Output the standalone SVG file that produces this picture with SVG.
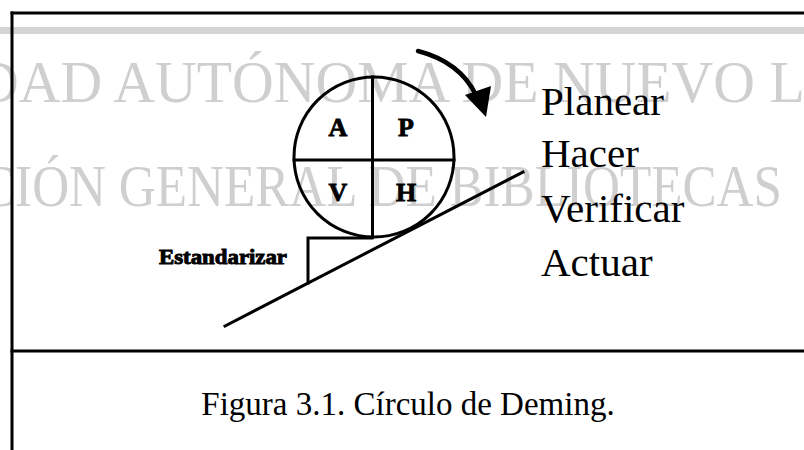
<svg xmlns="http://www.w3.org/2000/svg" width="804" height="450" viewBox="0 0 804 450">
  <style>
    .serif { font-family: "Liberation Serif", "Times New Roman", serif; }
    .wm { font-family: "Liberation Serif", "Times New Roman", serif; font-size: 60px; fill: #cfcfcf; }
    .ln { stroke: #000; fill: none; stroke-linecap: square; }
    .lbl { font-family: "Liberation Serif", "Times New Roman", serif; font-size: 41px; fill: #000; }
    .q { font-family: "Liberation Serif", "Times New Roman", serif; font-size: 26px; font-weight: bold; fill: #000; stroke: #000; stroke-width: 0.8; text-anchor: middle; }
  </style>
  <rect x="0" y="0" width="804" height="450" fill="#fff"/>

  <g id="watermark">
    <rect x="0" y="27" width="804" height="7" fill="#d4d4d4"/>
    <text class="wm" x="-23" y="102" textLength="863" lengthAdjust="spacingAndGlyphs">DAD AUTÓNOMA DE NUEVO LE</text>
    <text class="wm" x="-19" y="206" textLength="801" lengthAdjust="spacingAndGlyphs">CIÓN GENERAL DE BIBLIOTECAS</text>
  </g>

  <g id="frame">
    <line class="ln" x1="12" y1="13" x2="804" y2="13" stroke-width="3"/>
    <line class="ln" x1="12" y1="13" x2="12" y2="450" stroke-width="3"/>
    <line class="ln" x1="12" y1="351" x2="804" y2="351" stroke-width="3"/>
  </g>

  <g id="incline">
    <line class="ln" x1="225" y1="326" x2="523" y2="172" stroke-width="3"/>
  </g>

  <g id="step">
    <polyline class="ln" points="308,283 308,238 372,238" stroke-width="3" stroke-linecap="butt"/>
    <text class="serif" x="159" y="264" font-size="20" font-weight="bold" stroke="#000" stroke-width="0.9" textLength="128" lengthAdjust="spacingAndGlyphs">Estandarizar</text>
  </g>

  <g id="pdca-circle">
    <circle cx="374" cy="157" r="80" fill="none" stroke="#000" stroke-width="3"/>
    <line class="ln" x1="372.5" y1="77" x2="372.5" y2="237" stroke-width="3" stroke-linecap="butt"/>
    <line class="ln" x1="294" y1="160" x2="454" y2="160" stroke-width="3" stroke-linecap="butt"/>
    <text class="q" x="338" y="136">A</text>
    <text class="q" x="406" y="136">P</text>
    <text class="q" x="338" y="201">V</text>
    <text class="q" x="406" y="201">H</text>
  </g>

  <g id="connectors">
    <path d="M418,51 Q460,62 476,95" fill="none" stroke="#000" stroke-width="4.5" stroke-linecap="round"/>
    <polygon points="465,95 491,86 486,117" fill="#000"/>
  </g>

  <g id="phases">
    <text class="lbl" x="541" y="115">Planear</text>
    <text class="lbl" x="541" y="167">Hacer</text>
    <text class="lbl" x="541" y="222">Verificar</text>
    <text class="lbl" x="541" y="276">Actuar</text>
  </g>

  <g id="caption">
    <text class="serif" x="408" y="415" font-size="33" text-anchor="middle">Figura 3.1. Círculo de Deming.</text>
  </g>
</svg>
